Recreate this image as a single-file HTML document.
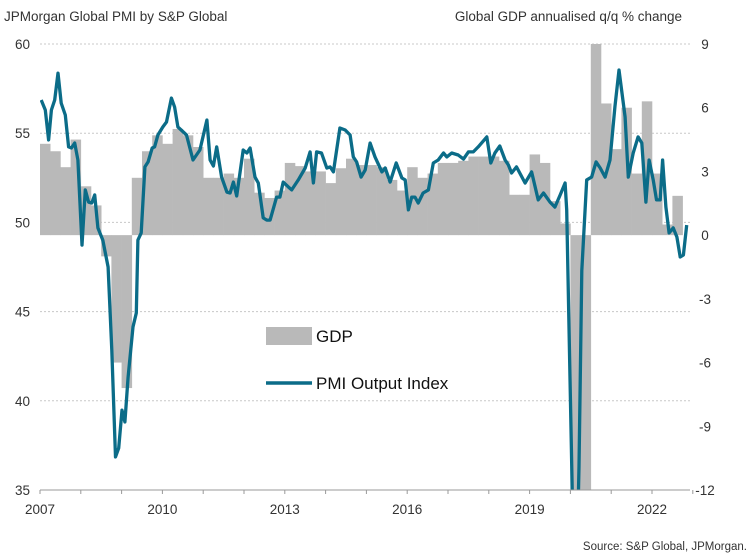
<!DOCTYPE html>
<html><head><meta charset="utf-8">
<style>
html,body{margin:0;padding:0;background:#fff;width:751px;height:559px;overflow:hidden;}
svg{display:block;font-family:"Liberation Sans",Arial,sans-serif;overflow:hidden;}
</style></head>
<body>
<svg id="chart" width="751" height="559" viewBox="0 0 751 559">
  <text x="4" y="21" font-size="13.5" fill="#333">JPMorgan Global PMI by S&amp;P Global</text>
  <text x="682" y="21" font-size="13.5" fill="#333" text-anchor="end">Global GDP annualised q/q % change</text>
  <text x="747" y="550" font-size="11.5" fill="#333" text-anchor="end">Source: S&amp;P Global, JPMorgan.</text>
  <defs><clipPath id="plotclip"><rect x="40" y="44" width="650" height="446"/></clipPath></defs>
  <g id="grid"></g>
  <g id="bars" clip-path="url(#plotclip)"></g>
  <g id="line" clip-path="url(#plotclip)"></g>
  <g id="axes"></g>
  <g>
    <rect x="266" y="327" width="46" height="18" fill="#b9b9b9"/>
    <text x="316" y="342" font-size="17" fill="#111">GDP</text>
    <line x1="266" y1="383" x2="312" y2="383" stroke="#0b6c88" stroke-width="3.5"/>
    <text x="316" y="389" font-size="17" fill="#111">PMI Output Index</text>
  </g>
</svg>
<script>
const leftTicks=[60,55,50,45,40,35];
const rightTicks=[9,6,3,0,-3,-6,-9,-12];
const yearLabels=[2007,2010,2013,2016,2019,2022];
const gdpStartYear=2007;
const gdpValues=[4.3,3.95,3.2,4.5,2.3,1.4,-1.0,-6.0,-7.2,2.7,3.95,4.7,4.3,5.0,4.7,4.15,2.7,2.7,2.9,2.7,3.6,2.0,1.75,2.1,3.4,3.25,3.0,3.0,2.45,3.15,3.6,3.3,3.3,3.2,2.6,2.1,3.2,2.7,2.9,3.4,3.4,3.5,3.7,3.7,3.7,3.5,1.9,1.9,3.8,3.4,1.6,0.55,-13,-13,9.5,6.2,4.05,6.0,2.9,6.3,2.9,0.5,1.85];
const pmiDates=[2007.03,2007.13,2007.21,2007.28,2007.36,2007.44,2007.52,2007.62,2007.70,2007.77,2007.85,2007.93,2008.03,2008.11,2008.19,2008.27,2008.34,2008.42,2008.54,2008.67,2008.76,2008.85,2008.93,2009.01,2009.08,2009.16,2009.28,2009.36,2009.40,2009.48,2009.57,2009.65,2009.75,2009.81,2009.89,2010.01,2010.10,2010.22,2010.30,2010.38,2010.46,2010.59,2010.75,2010.92,2011.09,2011.17,2011.25,2011.33,2011.45,2011.58,2011.66,2011.74,2011.82,2011.98,2012.07,2012.15,2012.27,2012.35,2012.47,2012.56,2012.64,2012.80,2012.88,2012.96,2013.09,2013.17,2013.33,2013.50,2013.62,2013.70,2013.78,2013.90,2014.03,2014.11,2014.19,2014.35,2014.48,2014.60,2014.68,2014.76,2014.87,2014.97,2015.09,2015.21,2015.38,2015.46,2015.58,2015.73,2015.87,2015.95,2016.03,2016.11,2016.19,2016.27,2016.39,2016.52,2016.64,2016.76,2016.89,2016.97,2017.09,2017.25,2017.38,2017.50,2017.62,2017.74,2017.95,2018.05,2018.15,2018.27,2018.40,2018.48,2018.56,2018.68,2018.89,2019.05,2019.21,2019.34,2019.50,2019.62,2019.75,2019.87,2019.91,2020.12,2020.21,2020.28,2020.40,2020.52,2020.63,2020.73,2020.85,2020.97,2021.09,2021.19,2021.34,2021.42,2021.54,2021.66,2021.75,2021.85,2021.93,2022.03,2022.11,2022.20,2022.26,2022.34,2022.42,2022.52,2022.61,2022.69,2022.77,2022.85];
const pmiValues=[56.86,56.30,54.62,56.30,56.86,58.37,56.69,56.02,54.23,54.17,54.45,53.50,48.73,51.82,51.14,51.09,51.54,49.69,49.01,47.50,42.85,36.85,37.35,39.48,38.81,41.33,44.14,44.92,49.01,49.41,53.11,53.39,54.17,54.23,54.90,55.35,55.63,56.97,56.47,55.35,55.18,54.90,53.50,54.06,55.74,53.50,53.16,54.23,52.54,51.70,51.65,52.26,51.48,54.06,53.89,54.17,52.54,52.21,50.25,50.13,50.13,51.42,51.42,52.26,51.98,51.82,52.38,53.05,53.95,52.21,53.95,53.89,53.05,53.11,52.83,55.29,55.18,54.90,53.67,53.39,52.54,52.94,54.45,53.67,52.83,53.05,52.26,53.33,52.49,52.38,50.70,51.42,51.42,51.09,51.65,51.82,53.33,53.50,53.89,53.67,53.89,53.78,53.55,53.95,53.95,54.23,54.79,53.33,53.89,54.28,53.50,53.22,52.77,53.11,52.21,52.83,51.26,51.65,51.14,50.86,51.54,52.21,50.70,26.2,36.3,47.3,52.38,52.54,53.39,53.05,52.54,53.50,56.47,58.54,55.91,52.54,53.89,54.79,54.45,51.14,53.50,52.38,51.26,51.26,53.50,50.86,49.41,49.69,49.18,48.06,48.17,49.85];

const X0=40, PXY=40.8, YBOT=490;
function xT(t){return X0+(t-2007)*PXY;}
function yL(v){return 44+(60-v)*(446/25);}
function yR(v){return 44+(9-v)*(446/21);}
const NS="http://www.w3.org/2000/svg";
function mk(tag,attrs,parent){const e=document.createElementNS(NS,tag);for(const k in attrs)e.setAttribute(k,attrs[k]);parent.appendChild(e);return e;}
const grid=document.getElementById('grid'),bars=document.getElementById('bars'),line=document.getElementById('line'),axes=document.getElementById('axes');

leftTicks.forEach(v=>{
  const y=yL(v);
  if(v!==35){const g=mk('line',{x1:40,x2:690,y1:y,y2:y,stroke:'#c8c8c8','stroke-width':1,'stroke-dasharray':'2,2'},grid);
  
  }
  const t=mk('text',{x:30,y:y+5,'font-size':13.5,fill:'#333','text-anchor':'end'},axes);
  t.textContent=v;
  
  
});
rightTicks.forEach(v=>{
  const y=yR(v);
  const t=mk('text',{x:705,y:y+5,'font-size':13.5,fill:'#333','text-anchor':'middle'},axes);
  t.textContent=v;
  
  
});
const base=yR(0);
gdpValues.forEach((v,i)=>{
  const t0=gdpStartYear+i*0.25;
  const x1=xT(t0),x2=xT(t0+0.25);
  const y=Math.min(Math.max(yR(v),44),YBOT);
  const r=mk('rect',{x:x1,y:Math.min(y,base),width:x2-x1+0.3,height:Math.abs(y-base),fill:'#b9b9b9'},bars);
  
  
});
// build line, splitting at the plot floor so nothing extends outside the frame
let d='', pen=false, prev=null;
pmiDates.forEach((t,i)=>{
  const pt=[xT(t),yL(pmiValues[i])];
  const inside=pt[1]<=YBOT;
  if(prev){
    const pin=prev[1]<=YBOT;
    if(pin!==inside){
      const f=(YBOT-prev[1])/(pt[1]-prev[1]);
      const cx=prev[0]+f*(pt[0]-prev[0]);
      if(pin){d+='L'+cx.toFixed(1)+','+YBOT;pen=false;}
      else{d+='M'+cx.toFixed(1)+','+YBOT;pen=true;}
    }
  }
  if(inside){d+=(pen?'L':'M')+pt[0].toFixed(1)+','+pt[1].toFixed(1);pen=true;}
  prev=pt;
});
const p=mk('path',{d:d,fill:'none',stroke:'#0b6c88','stroke-width':3.3,'stroke-linejoin':'round'},line);



const ax=mk('line',{x1:40,x2:690,y1:490,y2:490,stroke:'#999','stroke-width':1},axes);


for(let yr=2007;yr<=2023;yr++){
  const x=xT(yr);
  const tk=mk('line',{x1:x,x2:x,y1:490,y2:494,stroke:'#999','stroke-width':1},axes);
  
  
}
yearLabels.forEach(yr=>{
  const t=mk('text',{x:xT(yr),y:514,'font-size':13.5,fill:'#333','text-anchor':'middle'},axes);
  t.textContent=yr;
  
  
});
</script>
</body></html>
